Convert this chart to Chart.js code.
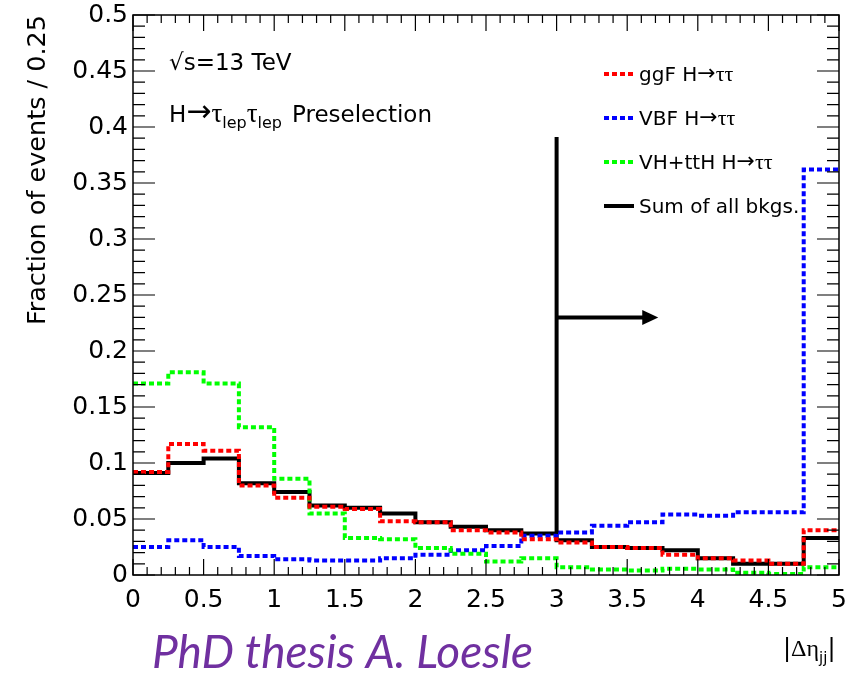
<!DOCTYPE html>
<html>
<head>
<meta charset="utf-8">
<script src="https://cdn.jsdelivr.net/npm/chart.js@4.4.0/dist/chart.umd.min.js"></script>
<style>
  body { margin: 0; background: #fff; }
  canvas { display: block; }
</style>
</head>
<body>
<canvas id="grafico" width="848" height="675"></canvas>
<script>
// Bordas dos bins em |Δη_jj| (20 bins de largura 0.25)
const binEdges = [0, 0.25, 0.5, 0.75, 1, 1.25, 1.5, 1.75, 2, 2.25, 2.5,
  2.75, 3, 3.25, 3.5, 3.75, 4, 4.25, 4.5, 4.75, 5];

// Fração de eventos por bin
const ggF = [0.092, 0.117, 0.111, 0.080, 0.069, 0.061, 0.059, 0.048, 0.047, 0.040,
  0.038, 0.032, 0.029, 0.025, 0.024, 0.018, 0.015, 0.013, 0.010, 0.040];
const vbf = [0.025, 0.031, 0.025, 0.017, 0.014, 0.013, 0.013, 0.015, 0.018, 0.022,
  0.026, 0.035, 0.038, 0.044, 0.047, 0.054, 0.053, 0.056, 0.056, 0.362];
const vhtth = [0.171, 0.181, 0.171, 0.132, 0.086, 0.055, 0.033, 0.032, 0.024, 0.019,
  0.012, 0.015, 0.007, 0.005, 0.004, 0.0055, 0.005, 0.002, 0.001, 0.007];
const bkgSum = [0.091, 0.100, 0.104, 0.082, 0.074, 0.062, 0.060, 0.055, 0.047, 0.043,
  0.040, 0.037, 0.031, 0.025, 0.024, 0.022, 0.015, 0.010, 0.010, 0.033];

const xTickStep = 0.5;
const yTickStep = 0.05;

// Corte de seleção (seta)
const cutValue = 3;
const cutArrow = { yLow: 0.038, yHigh: 0.391, yArrow: 0.23, xTip: 3.72 };

// Converte os valores dos bins em pontos para linha em degraus
function histPoints(values) {
  const pts = values.map((v, i) => ({ x: binEdges[i], y: v }));
  pts.push({ x: binEdges[binEdges.length - 1], y: values[values.length - 1] });
  return pts;
}

function histDataset(label, values, color, dashed) {
  return {
    label: label,
    data: histPoints(values),
    borderColor: color,
    backgroundColor: color,
    borderWidth: 4,
    borderDash: dashed ? [5, 3] : [],
    stepped: true,
    pointRadius: 0,
    fill: false,
  };
}

const SANS = "'DejaVu Sans', sans-serif";
const SERIF = "'Liberation Serif', 'DejaVu Serif', serif";

// Desenha texto composto (sub-índices, símbolos)
function drawParts(ctx, x, y, parts) {
  for (const p of parts) {
    ctx.font = p.font;
    ctx.fillText(p.t, x, y + (p.dy || 0));
    x += ctx.measureText(p.t).width + (p.gap || 0);
  }
  return x;
}

const arrowParts = [
  { t: '\u2192', font: `22px ${SANS}`, dy: -1 },
  { t: '\u03C4\u03C4', font: `22px ${SERIF}` },
];

const legendItems = [
  { color: '#ff0000', dashed: true, text: 'ggF H' },
  { color: '#0000ff', dashed: true, text: 'VBF H' },
  { color: '#00ff00', dashed: true, text: 'VH+ttH H' },
  { color: '#000000', dashed: false, text: 'Sum of all bkgs.' },
];

const rootStyle = {
  id: 'rootStyle',
  afterDraw(chart) {
    const { ctx, chartArea: a, scales: { x, y } } = chart;
    ctx.save();

    // moldura e ticks internos (estilo ROOT)
    ctx.strokeStyle = '#000';
    ctx.lineWidth = 1.5;
    ctx.strokeRect(a.left, a.top, a.right - a.left, a.bottom - a.top);
    ctx.lineWidth = 1.2;
    ctx.beginPath();
    for (let i = 0; i <= 50; i++) {
      const px = x.getPixelForValue(i * 0.1);
      const len = i % 5 === 0 ? 16 : 8;
      ctx.moveTo(px, a.bottom); ctx.lineTo(px, a.bottom - len);
      ctx.moveTo(px, a.top); ctx.lineTo(px, a.top + len);
    }
    for (let i = 0; i <= 50; i++) {
      const py = y.getPixelForValue(i * 0.01);
      const len = i % 5 === 0 ? 22 : 12;
      ctx.moveTo(a.left, py); ctx.lineTo(a.left + len, py);
      ctx.moveTo(a.right, py); ctx.lineTo(a.right - len, py);
    }
    ctx.stroke();

    // seta do corte
    const cx = x.getPixelForValue(cutValue);
    const ay = y.getPixelForValue(cutArrow.yArrow);
    const tip = x.getPixelForValue(cutArrow.xTip);
    ctx.lineWidth = 4;
    ctx.beginPath();
    ctx.moveTo(cx, y.getPixelForValue(cutArrow.yLow));
    ctx.lineTo(cx, y.getPixelForValue(cutArrow.yHigh));
    ctx.moveTo(cx, ay);
    ctx.lineTo(tip - 14, ay);
    ctx.stroke();
    ctx.fillStyle = '#000';
    ctx.beginPath();
    ctx.moveTo(tip, ay);
    ctx.lineTo(tip - 16, ay - 7.5);
    ctx.lineTo(tip - 16, ay + 7.5);
    ctx.closePath();
    ctx.fill();

    // legenda
    ctx.textBaseline = 'alphabetic';
    ctx.textAlign = 'left';
    legendItems.forEach((item, i) => {
      const ly = 74 + i * 44;
      ctx.strokeStyle = item.color;
      ctx.lineWidth = 4;
      ctx.setLineDash(item.dashed ? [5, 3] : []);
      ctx.beginPath();
      ctx.moveTo(604, ly);
      ctx.lineTo(634, ly);
      ctx.stroke();
      ctx.setLineDash([]);
      ctx.fillStyle = '#000';
      const parts = [{ t: item.text, font: `20px ${SANS}` }];
      drawParts(ctx, 639, ly + 7, item.dashed ? parts.concat(arrowParts) : parts);
    });

    // textos
    ctx.fillStyle = '#000';
    drawParts(ctx, 169, 70, [{ t: '\u221As=13 TeV', font: `23px ${SANS}` }]);
    drawParts(ctx, 169, 122, [
      { t: 'H', font: `23px ${SANS}` },
      { t: '\u2192', font: `30px ${SANS}`, dy: -1 },
      { t: '\u03C4', font: `27px ${SERIF}` },
      { t: 'lep', font: `16px ${SANS}`, dy: 6 },
      { t: '\u03C4', font: `27px ${SERIF}` },
      { t: 'lep', font: `16px ${SANS}`, dy: 6, gap: 10 },
      { t: 'Preselection', font: `23px ${SANS}` },
    ]);

    // título do eixo y
    ctx.save();
    ctx.translate(45, 15);
    ctx.rotate(-Math.PI / 2);
    ctx.textAlign = 'right';
    ctx.font = `25.5px ${SANS}`;
    ctx.fillText('Fraction of events / 0.25', 0, 0);
    ctx.restore();

    // título do eixo x
    drawParts(ctx, 783, 656, [
      { t: '|', font: `24px ${SANS}` },
      { t: '\u0394\u03B7', font: `24px ${SERIF}` },
      { t: 'jj', font: `15px ${SANS}`, dy: 7 },
      { t: '|', font: `24px ${SANS}` },
    ]);

    // crédito
    ctx.fillStyle = '#7030a0';
    ctx.font = `italic 46px Lato, 'Open Sans', sans-serif`;
    ctx.fillText('PhD thesis A. Loesle', 152, 668);

    ctx.restore();
  },
};

const ctx = document.getElementById('grafico').getContext('2d');

const config = {
  type: 'line',
  data: {
    datasets: [
      histDataset('ggF H→ττ', ggF, '#ff0000', true),
      histDataset('VH+ttH H→ττ', vhtth, '#00ff00', true),
      histDataset('VBF H→ττ', vbf, '#0000ff', true),
      histDataset('Sum of all bkgs.', bkgSum, '#000000', false),
    ],
  },
  options: {
    responsive: false,
    animation: false,
    layout: { padding: { left: 0, right: 9, top: 15, bottom: 0 } },
    scales: {
      x: {
        type: 'linear',
        min: 0,
        max: 5,
        grid: { display: false, drawTicks: false },
        border: { display: false },
        ticks: {
          stepSize: xTickStep,
          autoSkip: false,
          maxRotation: 0,
          padding: 10,
          color: '#000',
          font: { family: 'DejaVu Sans', size: 25 },
          callback: (v) => String(+v.toFixed(2)),
        },
        afterFit: (scale) => {
          scale.height = 100;
          scale.paddingLeft = 0;
          scale.paddingRight = 0;
        },
      },
      y: {
        type: 'linear',
        min: 0,
        max: 0.5,
        grid: { display: false, drawTicks: false },
        border: { display: false },
        ticks: {
          stepSize: yTickStep,
          autoSkip: false,
          padding: 5,
          color: '#000',
          font: { family: 'DejaVu Sans', size: 25 },
          callback: (v) => String(+v.toFixed(2)),
        },
        afterFit: (scale) => {
          scale.width = 133;
          scale.paddingTop = 0;
          scale.paddingBottom = 0;
        },
      },
    },
    plugins: {
      legend: { display: false },
      tooltip: { enabled: false },
    },
  },
  plugins: [rootStyle],
};

new Chart(ctx, config);
</script>
</body>
</html>
